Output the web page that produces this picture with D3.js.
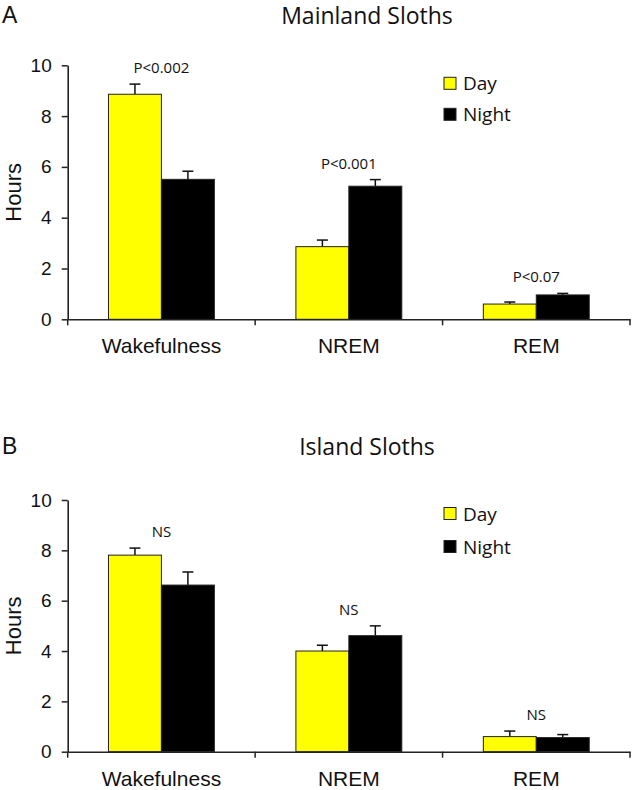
<!DOCTYPE html>
<html>
<head>
<meta charset="utf-8">
<script src="https://cdn.jsdelivr.net/npm/d3@7"></script>
<style>
  html, body { margin: 0; padding: 0; background: #fff; }
  svg { display: block; }
</style>
</head>
<body>
<svg id="chart" width="632" height="790"></svg>
<script>
// ---------- data ----------
const categories = ["Wakefulness", "NREM", "REM"];
const seriesNames = ["Day", "Night"];
const yTicks = [0, 2, 4, 6, 8, 10];

const mainlandDay = [8.86, 2.86, 0.60];
const mainlandDayErr = [0.40, 0.26, 0.08];
const mainlandNight = [5.51, 5.24, 0.96];
const mainlandNightErr = [0.32, 0.26, 0.06];
const mainlandSig = ["P<0.002", "P<0.001", "P<0.07"];

const islandDay = [7.81, 4.00, 0.60];
const islandDayErr = [0.28, 0.23, 0.22];
const islandNight = [6.62, 4.61, 0.56];
const islandNightErr = [0.52, 0.39, 0.12];
const islandSig = ["NS", "NS", "NS"];

const colors = { Day: "#ffff00", Night: "#000000" };

// ---------- drawing ----------
const svg = d3.select("#chart");

function drawPanel(opts) {
  const { letter, title, day, dayErr, night, nightErr, sig, top, bottom, titleY, legendTop, legendGap } = opts;
  const left = 67.7, right = 630;
  const g = svg.append("g");

  const x0 = d3.scaleBand().domain(categories).range([left, right]).paddingInner(0).paddingOuter(0);
  const x1 = d3.scaleBand().domain(seriesNames).range([0, x0.bandwidth()]).paddingInner(0).paddingOuter(0.77);
  const y = d3.scaleLinear().domain([0, 10]).range([bottom, top]);

  // panel letter and title
  g.append("text").attr("x", 2).attr("y", titleY)
    .attr("font-family", "Liberation Sans, Arial, sans-serif").attr("font-size", 23)
    .attr("fill", "#111").text(letter);
  g.append("text").attr("x", 367).attr("y", titleY + 1).attr("text-anchor", "middle")
    .attr("font-family", "Open Sans, sans-serif").attr("font-size", 23)
    .attr("fill", "#111").text(title);

  const rows = categories.map((c, i) => ({
    cat: c,
    vals: [
      { s: "Day", v: day[i], e: dayErr[i] },
      { s: "Night", v: night[i], e: nightErr[i] }
    ],
    sig: sig[i]
  }));

  const grp = g.selectAll("g.grp").data(rows).join("g")
    .attr("class", "grp")
    .attr("transform", d => `translate(${x0(d.cat)},0)`);

  // error bars (upward only)
  grp.selectAll("g.err").data(d => d.vals).join("g").attr("class", "err").each(function (d) {
    const cx = x1(d.s) + x1.bandwidth() / 2;
    const sel = d3.select(this);
    sel.append("line").attr("x1", cx).attr("x2", cx).attr("y1", y(d.v)).attr("y2", y(d.v + d.e))
      .attr("stroke", "#111").attr("stroke-width", 1.5);
    sel.append("line").attr("x1", cx - 5.5).attr("x2", cx + 5.5).attr("y1", y(d.v + d.e)).attr("y2", y(d.v + d.e))
      .attr("stroke", "#111").attr("stroke-width", 1.5);
  });

  // bars
  grp.selectAll("rect").data(d => d.vals).join("rect")
    .attr("x", d => x1(d.s))
    .attr("y", d => y(d.v))
    .attr("width", x1.bandwidth())
    .attr("height", d => y(0) - y(d.v))
    .attr("fill", d => colors[d.s])
    .attr("stroke", "#222")
    .attr("stroke-width", 1);

  // significance labels
  grp.append("text")
    .attr("x", x0.bandwidth() / 2)
    .attr("y", d => y(d3.max(d.vals, v => v.v + v.e)) - 11)
    .attr("text-anchor", "middle")
    .attr("font-family", "Open Sans, sans-serif")
    .attr("font-size", 15)
    .attr("fill", "#111")
    .text(d => d.sig);

  // y axis
  const yAxis = g.append("g").attr("transform", `translate(${left},0)`)
    .call(d3.axisLeft(y).tickValues(yTicks).tickSize(6).tickSizeOuter(0).tickPadding(10).tickFormat(d3.format("d")));
  yAxis.select(".domain").attr("stroke", "#222").attr("stroke-width", 1.6);
  yAxis.selectAll(".tick line").attr("stroke", "#222").attr("stroke-width", 1.5);
  yAxis.selectAll(".tick text").attr("font-family", "Liberation Sans, Arial, sans-serif")
    .attr("font-size", 19).attr("fill", "#111");

  // x axis
  const xAxis = g.append("g").attr("transform", `translate(0,${bottom})`)
    .call(d3.axisBottom(x0).tickSize(0).tickSizeOuter(0).tickPadding(19));
  xAxis.select(".domain").attr("stroke", "#222").attr("stroke-width", 1.6);
  xAxis.selectAll(".tick text").attr("font-family", "Liberation Sans, Arial, sans-serif")
    .attr("font-size", 21).attr("fill", "#111");
  // boundary ticks between categories
  const bounds = categories.map(c => x0(c)).concat([x0(categories[categories.length - 1]) + x0.bandwidth()]);
  g.selectAll("line.btick").data(bounds).join("line").attr("class", "btick")
    .attr("x1", d => d).attr("x2", d => d)
    .attr("y1", bottom).attr("y2", bottom + 6)
    .attr("stroke", "#222").attr("stroke-width", 1.5);

  // y axis title
  g.append("text")
    .attr("transform", `translate(21,${(top + bottom) / 2}) rotate(-90)`)
    .attr("text-anchor", "middle")
    .attr("font-family", "Liberation Sans, Arial, sans-serif")
    .attr("font-size", 22).attr("fill", "#111")
    .text("Hours");

  // legend
  const lg = g.selectAll("g.leg").data(seriesNames).join("g").attr("class", "leg")
    .attr("transform", (d, i) => `translate(444,${top + legendTop + i * legendGap})`);
  lg.append("rect").attr("width", 12).attr("height", 12)
    .attr("fill", d => colors[d]).attr("stroke", "#222").attr("stroke-width", 1);
  lg.append("text").attr("x", 19).attr("y", 13)
    .attr("font-family", "Open Sans, sans-serif").attr("font-size", 19).attr("fill", "#111")
    .text(d => d);
}

drawPanel({
  letter: "A", title: "Mainland Sloths",
  day: mainlandDay, dayErr: mainlandDayErr, night: mainlandNight, nightErr: mainlandNightErr, sig: mainlandSig,
  top: 65.3, bottom: 319.3, titleY: 23, legendTop: 12, legendGap: 31
});
drawPanel({
  letter: "B", title: "Island Sloths",
  day: islandDay, dayErr: islandDayErr, night: islandNight, nightErr: islandNightErr, sig: islandSig,
  top: 500, bottom: 751.7, titleY: 454, legendTop: 7.5, legendGap: 33
});
</script>
</body>
</html>
